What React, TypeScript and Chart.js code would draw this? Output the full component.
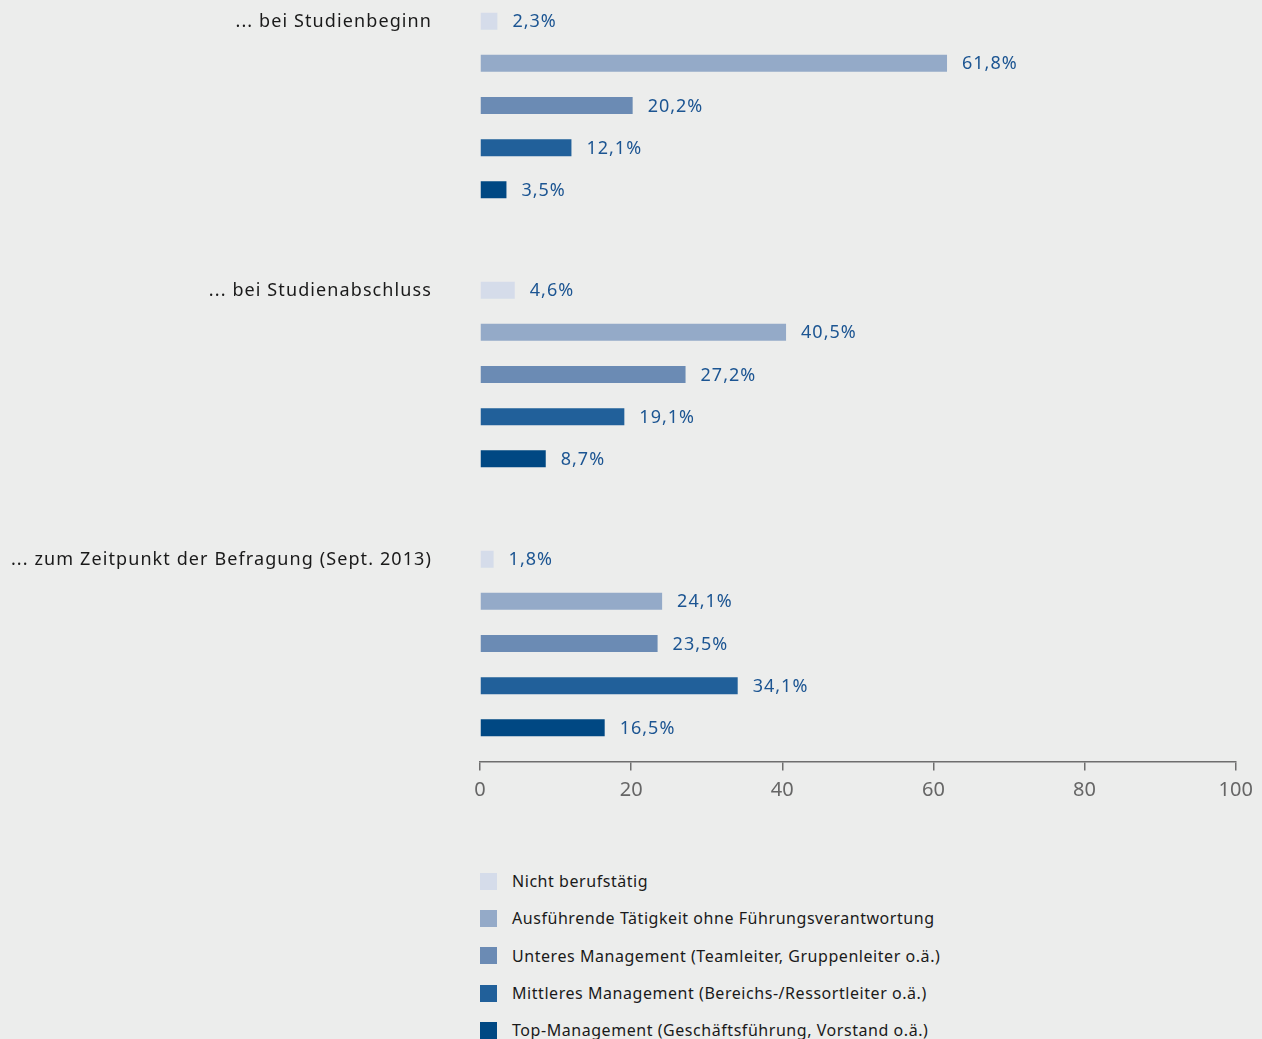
import React, { useEffect, useRef } from 'react';
import { Chart, registerables } from 'chart.js';

Chart.register(...registerables);

const groups = [
  '... bei Studienbeginn',
  '... bei Studienabschluss',
  '... zum Zeitpunkt der Befragung (Sept. 2013)',
];

const seriesNames = [
  'Nicht berufstätig',
  'Ausführende Tätigkeit ohne Führungsverantwortung',
  'Unteres Management (Teamleiter, Gruppenleiter o.ä.)',
  'Mittleres Management (Bereichs-/Ressortleiter o.ä.)',
  'Top-Management (Geschäftsführung, Vorstand o.ä.)',
];

const nichtBerufstaetig = [2.3, 4.6, 1.8];
const ausfuehrend = [61.8, 40.5, 24.1];
const unteresMgmt = [20.2, 27.2, 23.5];
const mittleresMgmt = [12.1, 19.1, 34.1];
const topMgmt = [3.5, 8.7, 16.5];

const seriesValues = [nichtBerufstaetig, ausfuehrend, unteresMgmt, mittleresMgmt, topMgmt];
const seriesColors = ['#d5dcea', '#94aac8', '#6b8bb4', '#21609a', '#004883'];

const xMin = 0;
const xMax = 100;
const xStep = 20;

const FONT = '"Noto Sans", sans-serif';
const BG = '#ecedec';
const VALUE_COLOR = '#1c5592';
const TEXT_COLOR = '#1a1a1a';

const fmt = (v: number) => v.toFixed(1).replace('.', ',') + '%';

const valueLabelsPlugin = {
  id: 'valueLabels',
  afterDatasetsDraw(chart: any) {
    const ctx = chart.ctx;
    ctx.save();
    ctx.font = `18px ${FONT}`;
    (ctx as any).letterSpacing = '1px';
    ctx.fillStyle = VALUE_COLOR;
    ctx.textAlign = 'left';
    ctx.textBaseline = 'middle';
    chart.data.datasets.forEach((ds: any, di: number) => {
      const meta = chart.getDatasetMeta(di);
      meta.data.forEach((el: any, i: number) => {
        ctx.fillText(fmt(ds.data[i]), el.x + 15, el.y + 1);
      });
    });
    ctx.restore();
  },
};

const groupLabelsPlugin = {
  id: 'groupLabels',
  afterDatasetsDraw(chart: any) {
    const ctx = chart.ctx;
    const meta = chart.getDatasetMeta(0);
    ctx.save();
    ctx.font = `18px ${FONT}`;
    (ctx as any).letterSpacing = '1.1px';
    ctx.fillStyle = TEXT_COLOR;
    ctx.textAlign = 'right';
    ctx.textBaseline = 'middle';
    meta.data.forEach((el: any, i: number) => {
      ctx.fillText(chart.data.labels[i], chart.chartArea.left - 48, el.y + 1);
    });
    ctx.restore();
  },
};

export default function App() {
  const canvasRef = useRef<HTMLCanvasElement | null>(null);

  useEffect(() => {
    document.body.style.margin = '0';
    document.body.style.background = BG;
    const canvas = canvasRef.current;
    if (!canvas) return;
    const chart = new Chart(canvas, {
      type: 'bar',
      data: {
        labels: groups,
        datasets: seriesNames.map((name, i) => ({
          label: name,
          data: seriesValues[i],
          backgroundColor: seriesColors[i],
          categoryPercentage: 0.7836,
          barPercentage: 0.403,
        })),
      },
      options: {
        indexAxis: 'y',
        animation: false,
        responsive: false,
        maintainAspectRatio: false,
        layout: { padding: { left: 480, right: 26.3, top: 0, bottom: 41 } },
        plugins: {
          legend: { display: false },
          tooltip: { enabled: false },
        },
        scales: {
          y: { display: false, offset: true },
          x: {
            min: xMin,
            max: xMax,
            position: { y: 2.44 } as any,
            ticks: {
              stepSize: xStep,
              color: '#666666',
              font: { family: FONT, size: 20 },
              padding: 8,
            },
            grid: {
              drawOnChartArea: false,
              drawTicks: true,
              tickLength: 8,
              color: '#6e6e6e',
              lineWidth: 1.5,
            },
            border: { display: true, color: '#6e6e6e', width: 1.5 },
          },
        },
      } as any,
      plugins: [valueLabelsPlugin, groupLabelsPlugin],
    });
    return () => chart.destroy();
  }, []);

  return (
    <div
      style={{
        position: 'absolute',
        left: 0,
        top: 0,
        width: 1262,
        height: 1039,
        background: BG,
        overflow: 'hidden',
      }}
    >
      <div style={{ position: 'absolute', left: 0, top: -29.5, width: 1262, height: 848 }}>
        <canvas ref={canvasRef} width={1262} height={848} />
      </div>
      <div style={{ position: 'absolute', left: 480, top: 862.5 }}>
        {seriesNames.map((name, i) => (
          <div
            key={name}
            style={{ display: 'flex', alignItems: 'center', height: 37.3 }}
          >
            <span
              style={{
                display: 'inline-block',
                width: 17,
                height: 17,
                background: seriesColors[i],
                marginRight: 15,
                flexShrink: 0,
              }}
            />
            <span
              style={{
                fontFamily: FONT,
                fontSize: 16,
                letterSpacing: '0.55px',
                color: TEXT_COLOR,
                whiteSpace: 'nowrap',
                lineHeight: '20px',
              }}
            >
              {name}
            </span>
          </div>
        ))}
      </div>
    </div>
  );
}
